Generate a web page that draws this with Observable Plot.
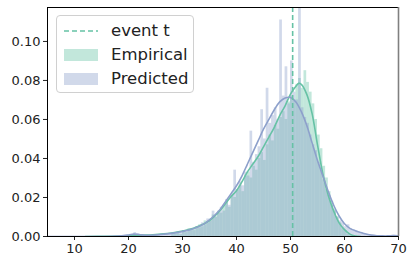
<!DOCTYPE html>
<html>
<head>
<meta charset="utf-8">
<script src="https://cdn.jsdelivr.net/npm/d3@7"></script>
<script src="https://cdn.jsdelivr.net/npm/@observablehq/plot@0.6"></script>
<style>
  html, body { margin: 0; padding: 0; background: #fff; }
  #wrap { position: relative; width: 416px; height: 265px; font-family: "DejaVu Sans", sans-serif; }
  #legend { position: absolute; left: 56px; top: 15px; width: 138px; height: 78px; border: 1px solid #d0d0d0; border-radius: 4px; background: rgba(255,255,255,0.85); box-sizing: border-box; }
  .row { position: absolute; left: 0; height: 20px; display: flex; align-items: center; font-size: 16.5px; color: #222; }
  .sw { position: absolute; left: 7px; width: 34px; }
  .lbl { position: absolute; left: 54px; white-space: nowrap; line-height: 20px; }
</style>
</head>
<body>
<div id="wrap"></div>
<script>
// ---- data ----
const binWidth = 0.5;
const empiricalFrom = 28;
const empiricalDensity = [
  0.001, 0.002, 0.002, 0.001, 0.003, 0.002, 0.004, 0.003, 0.004, 0.005,
  0.006, 0.005, 0.008, 0.007, 0.009, 0.011, 0.010, 0.013, 0.012, 0.016,
  0.018, 0.015, 0.021, 0.020, 0.024, 0.026, 0.023, 0.031, 0.033, 0.030,
  0.036, 0.034, 0.040, 0.043, 0.039, 0.047, 0.052, 0.049, 0.057, 0.055,
  0.061, 0.064, 0.060, 0.069, 0.072, 0.070, 0.078, 0.081, 0.076, 0.085,
  0.079, 0.074, 0.068, 0.060, 0.052, 0.045, 0.036, 0.030, 0.023, 0.018,
  0.014, 0.010, 0.007, 0.004, 0.003, 0.001, 0.0005
];
const predictedFrom = 20;
const predictedDensity = [
  0.0005, 0.001, 0.002, 0.0015, 0.001, 0.0005, 0.0005, 0.0003, 0.0008, 0.0005,
  0.001, 0.0008, 0.0012, 0.001, 0.0015, 0.0012, 0.002, 0.0015, 0.0025, 0.002,
  0.003, 0.0025, 0.0035, 0.004, 0.003, 0.005, 0.0045, 0.007, 0.006, 0.009,
  0.008, 0.013, 0.010, 0.012, 0.015, 0.013, 0.019, 0.016, 0.022, 0.034,
  0.024, 0.028, 0.026, 0.033, 0.031, 0.054, 0.038, 0.042, 0.046, 0.065,
  0.050, 0.076, 0.058, 0.062, 0.066, 0.060, 0.111, 0.072, 0.087, 0.068,
  0.090, 0.074, 0.070, 0.125, 0.066, 0.061, 0.058, 0.052, 0.047, 0.044,
  0.038, 0.034, 0.029, 0.024, 0.021, 0.016, 0.013, 0.010, 0.008, 0.007,
  0.005, 0.006, 0.004, 0.003, 0.003, 0.002, 0.002, 0.0015, 0.001, 0.001,
  0.0005, 0.0005, 0.0003, 0.0003, 0.0003, 0.0002, 0.0003, 0.0004, 0.0006, 0.0005
];
const empiricalKdeX = [12, 16, 20, 22, 24, 26, 28, 30, 32, 34, 35, 36, 37, 38, 39, 40, 41, 42, 43, 44, 45, 46, 47, 48, 49, 50, 51, 51.5, 52, 53, 54, 55, 56, 57, 58, 59, 60, 61, 62, 63];
const empiricalKdeY = [0, 0.0001, 0.0003, 0.0006, 0.0008, 0.0012, 0.0018, 0.0028, 0.0042, 0.0065, 0.0082, 0.0105, 0.0135, 0.017, 0.0205, 0.0235, 0.028, 0.033, 0.037, 0.041, 0.046, 0.051, 0.056, 0.062, 0.067, 0.073, 0.077, 0.0785, 0.078, 0.073, 0.063, 0.047, 0.032, 0.021, 0.013, 0.007, 0.0035, 0.0012, 0.0003, 0];
const predictedKdeX = [5, 10, 15, 18, 20, 21, 22, 23, 24, 26, 28, 30, 32, 34, 35, 36, 37, 38, 39, 40, 41, 42, 43, 44, 45, 46, 47, 48, 49, 50, 51, 52, 53, 54, 55, 56, 57, 58, 59, 60, 61, 62, 63, 64, 65, 66, 67, 68, 69, 70];
const predictedKdeY = [0, 0, 0, 0.0002, 0.0008, 0.0012, 0.001, 0.0006, 0.0006, 0.001, 0.0016, 0.0026, 0.004, 0.0065, 0.0085, 0.011, 0.014, 0.018, 0.022, 0.026, 0.031, 0.037, 0.043, 0.049, 0.055, 0.060, 0.065, 0.069, 0.071, 0.0713, 0.069, 0.064, 0.057, 0.048, 0.039, 0.031, 0.023, 0.016, 0.0105, 0.0065, 0.0042, 0.003, 0.0021, 0.0013, 0.0007, 0.0004, 0.0003, 0.0003, 0.0005, 0.0004];
const eventT = 50.4;
const xTicks = [10, 20, 30, 40, 50, 60, 70];
const yTicks = [0, 0.02, 0.04, 0.06, 0.08, 0.10];
const labels = { event: "event t", empirical: "Empirical", predicted: "Predicted" };

// ---- build tables ----
const empBars = empiricalDensity.map((d, i) => ({ x1: empiricalFrom + i * binWidth, x2: empiricalFrom + (i + 1) * binWidth, y: d }));
const predBars = predictedDensity.map((d, i) => ({ x1: predictedFrom + i * binWidth, x2: predictedFrom + (i + 1) * binWidth, y: d }));
const empKde = empiricalKdeX.map((x, i) => ({ x, y: empiricalKdeY[i] }));
const predKde = predictedKdeX.map((x, i) => ({ x, y: predictedKdeY[i] }));

const green = "#66c2a5", purple = "#8da0cb";

const chart = Plot.plot({
  width: 416,
  height: 265,
  marginLeft: 47,
  marginRight: 18,
  marginTop: 7,
  marginBottom: 29,
  style: { fontFamily: "DejaVu Sans, sans-serif", fontSize: "13px", color: "#222", background: "#fff" },
  x: { domain: [5, 70], ticks: xTicks, tickFormat: d3.format("d"), label: null, tickSize: 4 },
  y: { domain: [0, 0.1174], ticks: yTicks, tickFormat: d3.format(".2f"), label: null, tickSize: 4 },
  marks: [
    Plot.rectY(empBars, { x1: "x1", x2: "x2", y: "y", fill: green, fillOpacity: 0.4, inset: 0, clip: true }),
    Plot.rectY(predBars, { x1: "x1", x2: "x2", y: "y", fill: purple, fillOpacity: 0.4, inset: 0, clip: true }),
    Plot.line(empKde, { x: "x", y: "y", stroke: green, strokeWidth: 1.6, curve: "catmull-rom", clip: true }),
    Plot.line(predKde, { x: "x", y: "y", stroke: purple, strokeWidth: 1.6, curve: "catmull-rom", clip: true }),
    Plot.ruleX([eventT], { stroke: green, strokeWidth: 1.6, strokeDasharray: "5,3" }),
    Plot.axisX({ ticks: xTicks, tickFormat: d3.format("d"), tickSize: 4, tickPadding: 3, fontSize: 13, label: null }),
    Plot.axisY({ ticks: yTicks, tickFormat: d3.format(".2f"), tickSize: 4, tickPadding: 3, fontSize: 13, label: null }),
    Plot.ruleY([0], { stroke: "#000", strokeWidth: 1 }),
    Plot.ruleY([0.1174], { stroke: "#000", strokeWidth: 1 }),
    Plot.ruleX([5], { stroke: "#000", strokeWidth: 1 }),
    Plot.ruleX([70], { stroke: "#808080", strokeWidth: 1.6 })
  ]
});

const wrap = document.getElementById("wrap");
chart.style.position = "absolute";
chart.style.left = "0px";
chart.style.top = "0px";
wrap.appendChild(chart);

const legend = document.createElement("div");
legend.id = "legend";
legend.innerHTML = `
  <div class="row" style="top:5px;width:100%">
    <svg class="sw" width="34" height="20" viewBox="0 0 34 20"><line x1="0" y1="10" x2="34" y2="10" stroke="${green}" stroke-width="1.6" stroke-dasharray="5,3"/></svg>
    <span class="lbl">${labels.event}</span>
  </div>
  <div class="row" style="top:29px;width:100%">
    <svg class="sw" width="34" height="20" viewBox="0 0 34 20"><rect x="0" y="4" width="34" height="12" fill="${green}" fill-opacity="0.4"/></svg>
    <span class="lbl">${labels.empirical}</span>
  </div>
  <div class="row" style="top:53px;width:100%">
    <svg class="sw" width="34" height="20" viewBox="0 0 34 20"><rect x="0" y="4" width="34" height="12" fill="${purple}" fill-opacity="0.4"/></svg>
    <span class="lbl">${labels.predicted}</span>
  </div>`;
wrap.appendChild(legend);
</script>
</body>
</html>
